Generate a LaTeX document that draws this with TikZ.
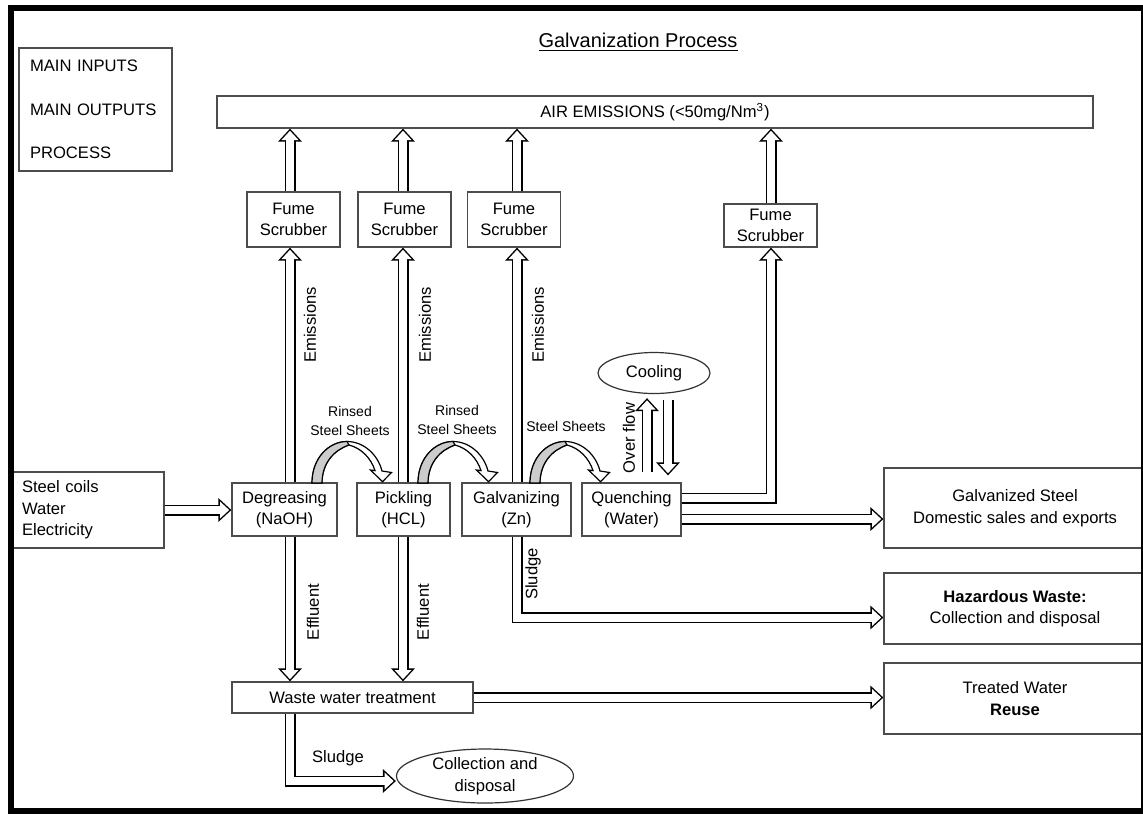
\documentclass[tikz,border=0pt]{standalone}
\usepackage{fontspec}
\setmainfont{Liberation Sans}
\usetikzlibrary{calc,arrows.meta,shapes.geometric,backgrounds}

\tikzset{
  every node/.style={font=\fontsize{8.3}{10.8}\selectfont},
  box/.style={draw=black!70, line width=0.6pt, inner sep=0pt, align=center},
  fume/.style={box, minimum width=46.5pt, minimum height=27.5pt},
  proc/.style={box, minimum height=26.5pt},
  outbox/.style={box, minimum width=131pt, minimum height=35.5pt},
  oval/.style={draw=black!80, line width=0.6pt, ellipse, inner sep=0pt, align=center},
  lbl/.style={inner sep=0pt},
  smalllbl/.style={inner sep=0pt, align=center, font=\fontsize{7}{9.5}\selectfont},
  % fleche creuse : trait noir large puis trait blanc dessus
  flow/.style={draw=white, line width=4pt, -{Triangle[length=4.6pt,width=8.2pt]}, shorten >=1.1pt,
    preaction={draw=black, line width=5.5pt, -{Triangle[length=6.5pt,width=11.5pt]}, shorten >=0pt}},
  sheets/.pic={
    \draw[fill=white, line width=0.6pt] (0,0) .. controls (0,-25) and (17,-41.5) .. (35,-41.5)
      .. controls (52,-41.5) and (66,-28) .. (70,-12) -- (79.5,-10.5) -- (70.5,-1.3) -- (58.5,-13)
      -- (63,-12.4) .. controls (59,-25) and (49,-35) .. (37,-38)
      .. controls (22,-33) and (10,-20) .. (10,0) -- cycle;
    \draw[fill=gray!40, line width=0.6pt] (0,0) .. controls (0,-25) and (17,-41.5) .. (35,-41.5)
      -- (37,-38) .. controls (22,-33) and (10,-20) .. (10,0) -- cycle;
  }
}

\begin{document}
\begin{tikzpicture}[x=0.5pt,y=-0.5pt]
\useasboundingbox (0,0) rectangle (1143,814);

%colonnes des fleches
\coordinate (c1) at (290,0);
\coordinate (c2) at (403,0);
\coordinate (c3) at (517,0);
\coordinate (c4) at (771,0);
\coordinate (ov) at (647,0);
\coordinate (dn) at (668,0);

\node (title) at (638,42) {\fontsize{10}{12}\selectfont\underline{Galvanization Process}};
\node[box, minimum width=76.5pt, minimum height=61.5pt, text width=65.5pt, inner xsep=5.5pt, align=left]
  (legend) at (95.5,109.5) {MAIN INPUTS\\[11pt]MAIN OUTPUTS\\[11pt]PROCESS};
\node[box, minimum width=438pt, minimum height=16pt] (air) at (655,112) {AIR EMISSIONS (<50mg/Nm\textsuperscript{3})};

\foreach \n/\x in {1/293.5,2/404.5,3/514}
{\node[fume] (fs\n) at (\x,219.5) {Fume\\Scrubber};}
\node[fume, minimum height=21.5pt] (fs4) at (770.5,225.5) {Fume\\Scrubber};

\node[proc, minimum width=52.5pt] (dg) at (284.5,509.5) {Degreasing\\(NaOH)};
\node[proc, minimum width=46.5pt] (pk) at (403.5,509.5) {Pickling\\(HCL)};
\node[proc, minimum width=54.5pt] (gv) at (516.5,509.5) {Galvanizing\\(Zn)};
\node[proc, minimum width=49.5pt] (qu) at (631.5,509.5) {Quenching\\(Water)};
\node[oval, minimum width=56pt, minimum height=20.5pt] (cool) at (654,373) {Cooling};

\node[box, minimum width=75.5pt, minimum height=38pt, text width=66.5pt, inner xsep=4.5pt, align=left]
  (inp) at (88.5,510) {Steel coils\\Water\\Electricity};

\node[outbox, minimum height=40pt] (gs) at (1015,508) {Galvanized Steel\\Domestic sales and exports};
\node[outbox] (hz) at (1015,608.5) {\textbf{Hazardous Waste:}\\Collection and disposal};
\node[outbox] (tw) at (1015,698.5) {Treated Water\\\textbf{Reuse}};

\node[box, minimum width=120.5pt, minimum height=15.5pt] (ww) at (352.5,697.5) {Waste water treatment};
\node[oval, minimum width=88.5pt, minimum height=27pt] (cd) at (485,776) {Collection and\\disposal};

%etiquettes
\foreach \n/\x in {1/310,2/425,3/538}
{\node[lbl, rotate=90] (em\n) at (\x,325) {Emissions};}
\node[lbl, rotate=90] (ef1) at (313,612) {Effluent};
\node[lbl, rotate=90] (ef2) at (423,612) {Effluent};
\node[lbl, rotate=90] (sl1) at (533,574) {Sludge};
\node[lbl, rotate=90] (ovf) at (629,438) {Over flow};
\node[lbl] (sl2) at (338,758) {Sludge};
\node[smalllbl] (rs1) at (350,421) {Rinsed\\Steel Sheets};
\node[smalllbl] (rs2) at (457,420) {Rinsed\\Steel Sheets};
\node[smalllbl] (rs3) at (566,426) {Steel Sheets};

\begin{pgfonlayer}{background}
\foreach \n in {1,2,3,4}
{\draw[flow] (fs\n.north -| c\n) -- (air.south -| c\n);}
\draw[flow] (dg.north -| c1) -- (fs1.south -| c1);
\draw[flow] (pk.north -| c2) -- (fs2.south -| c2);
\draw[flow] (gv.north -| c3) -- (fs3.south -| c3);
\draw[flow] ($(qu.east)+(0,-11.5)$) -| (fs4.south -| c4);
\draw[flow] ($(qu.east)+(0,9.5)$) -- ($(gs.west)+(0,11)$);
\draw[flow] (inp.east) -- (dg.west |- inp.east);
\draw[flow] ($(qu.north -| ov)+(0,-10)$) -- ($(cool.south -| ov)+(0,4)$);
\draw[flow] ($(cool.south -| dn)+(0,6)$) -- ($(qu.north -| dn)+(0,-7)$);
\draw[flow] (gv.south -| c3) |- ($(hz.west)+(0,9)$);
\draw[flow] (dg.south -| c1) -- (ww.north -| c1);
\draw[flow] (pk.south -| c2) -- (ww.north -| c2);
\draw[flow] (ww.east) -- (tw.west |- ww.east);
\draw[flow] (ww.south -| c1) |- ($(cd.west)+(0,5)$);
\end{pgfonlayer}

%fleches courbes entre les bains
\pic at (312,483) {sheets};
\pic at (418,483) {sheets};
\pic at (530,483) {sheets};

\draw[line width=3pt] (10.5,8) rectangle (1143.5,811);
\end{tikzpicture}
\end{document}
